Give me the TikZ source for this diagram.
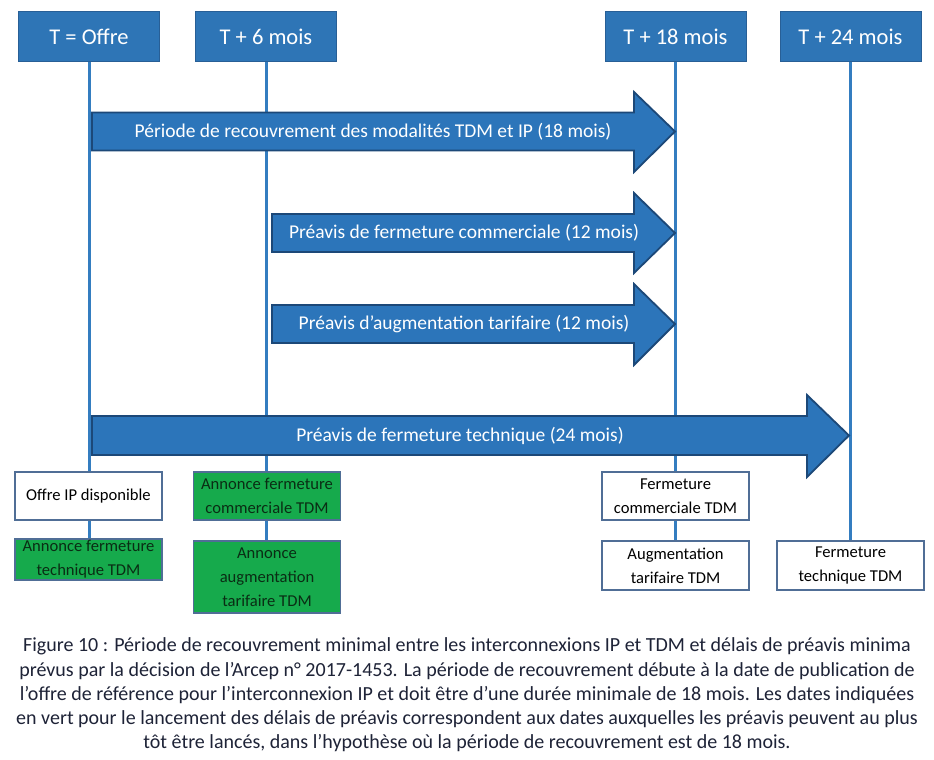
\documentclass[tikz,border=0pt]{standalone}
\usepackage{fontspec}
\setmainfont{Carlito}
\newfontfamily\capfont{Carlito}
\usetikzlibrary{backgrounds}
\definecolor{hdr}{RGB}{46,117,182}
\definecolor{hdrline}{RGB}{40,95,150}
\definecolor{arrfill}{RGB}{44,117,186}
\definecolor{arrline}{RGB}{28,72,120}
\definecolor{vline}{RGB}{52,125,192}
\definecolor{boxline}{RGB}{80,110,150}
\definecolor{grn}{RGB}{22,170,76}
\definecolor{grntext}{RGB}{10,45,20}
\definecolor{captext}{RGB}{30,35,55}
\tikzset{
  hdrbox/.style={draw=hdrline, fill=hdr, line width=1pt, text=white,
    minimum width=141pt, minimum height=50pt, inner sep=0pt,
    font=\fontsize{22.5}{24}\selectfont},
  evtbox/.style={draw=boxline, line width=1.2pt, fill=white, text=black,
    minimum width=147pt, inner sep=0pt, align=center,
    font=\fontsize{16.6}{24}\selectfont},
  grnbox/.style={evtbox, fill=grn, text=grntext},
  tlarrow/.style={fill=arrfill, draw=arrline, line width=1.8pt, line join=miter},
  arrtext/.style={text=white, inner sep=0pt, font=\fontsize{19.5}{22}\selectfont},
  tline/.style={draw=vline, line width=3pt}
}
\begin{document}
\begin{tikzpicture}[x=1pt,y=-1pt]
\useasboundingbox (0,0) rectangle (934,760);
% headers
\node[hdrbox] (h0) at (89,37) {T = Offre};
\node[hdrbox] (h6) at (266,37) {T + 6 mois};
\node[hdrbox] (h18) at (675.5,37) {T + 18 mois};
\node[hdrbox] (h24) at (850.5,37) {T + 24 mois};
% bottom boxes
\node[evtbox, minimum height=48pt] (b0a) at (88.5,496) {Offre IP disponible};
\node[grnbox, minimum height=41pt] (b0b) at (88.5,559.5) {Annonce fermeture\\technique TDM};
\node[grnbox, minimum height=48pt] (b6a) at (267,496) {Annonce fermeture\\commerciale TDM};
\node[grnbox, minimum height=72pt] (b6b) at (267,577) {Annonce\\augmentation\\tarifaire TDM};
\node[evtbox, minimum height=48pt] (b18a) at (675.5,496) {Fermeture\\commerciale TDM};
\node[evtbox, minimum height=49pt] (b18b) at (675.5,565.5) {Augmentation\\tarifaire TDM};
\node[evtbox, minimum height=49pt] (b24) at (850.5,565.5) {Fermeture\\technique TDM};
% arrows
\draw[tlarrow] (92,112.5) -- (634,112.5) -- (634,92) -- (675,131.5) -- (634,172) -- (634,150.5) -- (92,150.5) -- cycle;
\node[arrtext] (a1) at (373,131.5) {Période de recouvrement des modalités TDM et IP (18 mois)};
\draw[tlarrow] (272,214) -- (634,214) -- (634,193) -- (675,233) -- (634,273) -- (634,252) -- (272,252) -- cycle;
\node[arrtext] (a2) at (464,233) {Préavis de fermeture commerciale (12 mois)};
\draw[tlarrow] (272,305) -- (634,305) -- (634,284) -- (675,324) -- (634,365) -- (634,343) -- (272,343) -- cycle;
\node[arrtext] (a3) at (464,324) {Préavis d’augmentation tarifaire (12 mois)};
\draw[tlarrow] (92,416) -- (807,416) -- (807,395) -- (849,435.5) -- (807,477) -- (807,455) -- (92,455) -- cycle;
\node[arrtext] (a4) at (460,435.5) {Préavis de fermeture technique (24 mois)};
% timeline lines
\begin{scope}[on background layer]
\fill[white] (0,0) rectangle (934,760);
\draw[tline] (h0.south) -- (h0.south |- b0b.north);
\draw[tline] (h6.south) -- (h6.south |- b6b.north);
\draw[tline] (h18.south) -- (h18.south |- b18b.north);
\draw[tline] (h24.south) -- (h24.south |- b24.north);
\end{scope}
% caption
\node[text=captext, align=center, inner sep=0pt, font=\capfont\fontsize{20}{24.2}\selectfont] (cap) at (467,695)
{Figure 10 : Période de recouvrement minimal entre les interconnexions IP et TDM et délais de préavis minima\\
prévus par la décision de l’Arcep n° 2017-1453. La période de recouvrement débute à la date de publication de\\
l’offre de référence pour l’interconnexion IP et doit être d’une durée minimale de 18 mois. Les dates indiquées\\
en vert pour le lancement des délais de préavis correspondent aux dates auxquelles les préavis peuvent au plus\\
tôt être lancés, dans l’hypothèse où la période de recouvrement est de 18 mois.};
\end{tikzpicture}
\end{document}
